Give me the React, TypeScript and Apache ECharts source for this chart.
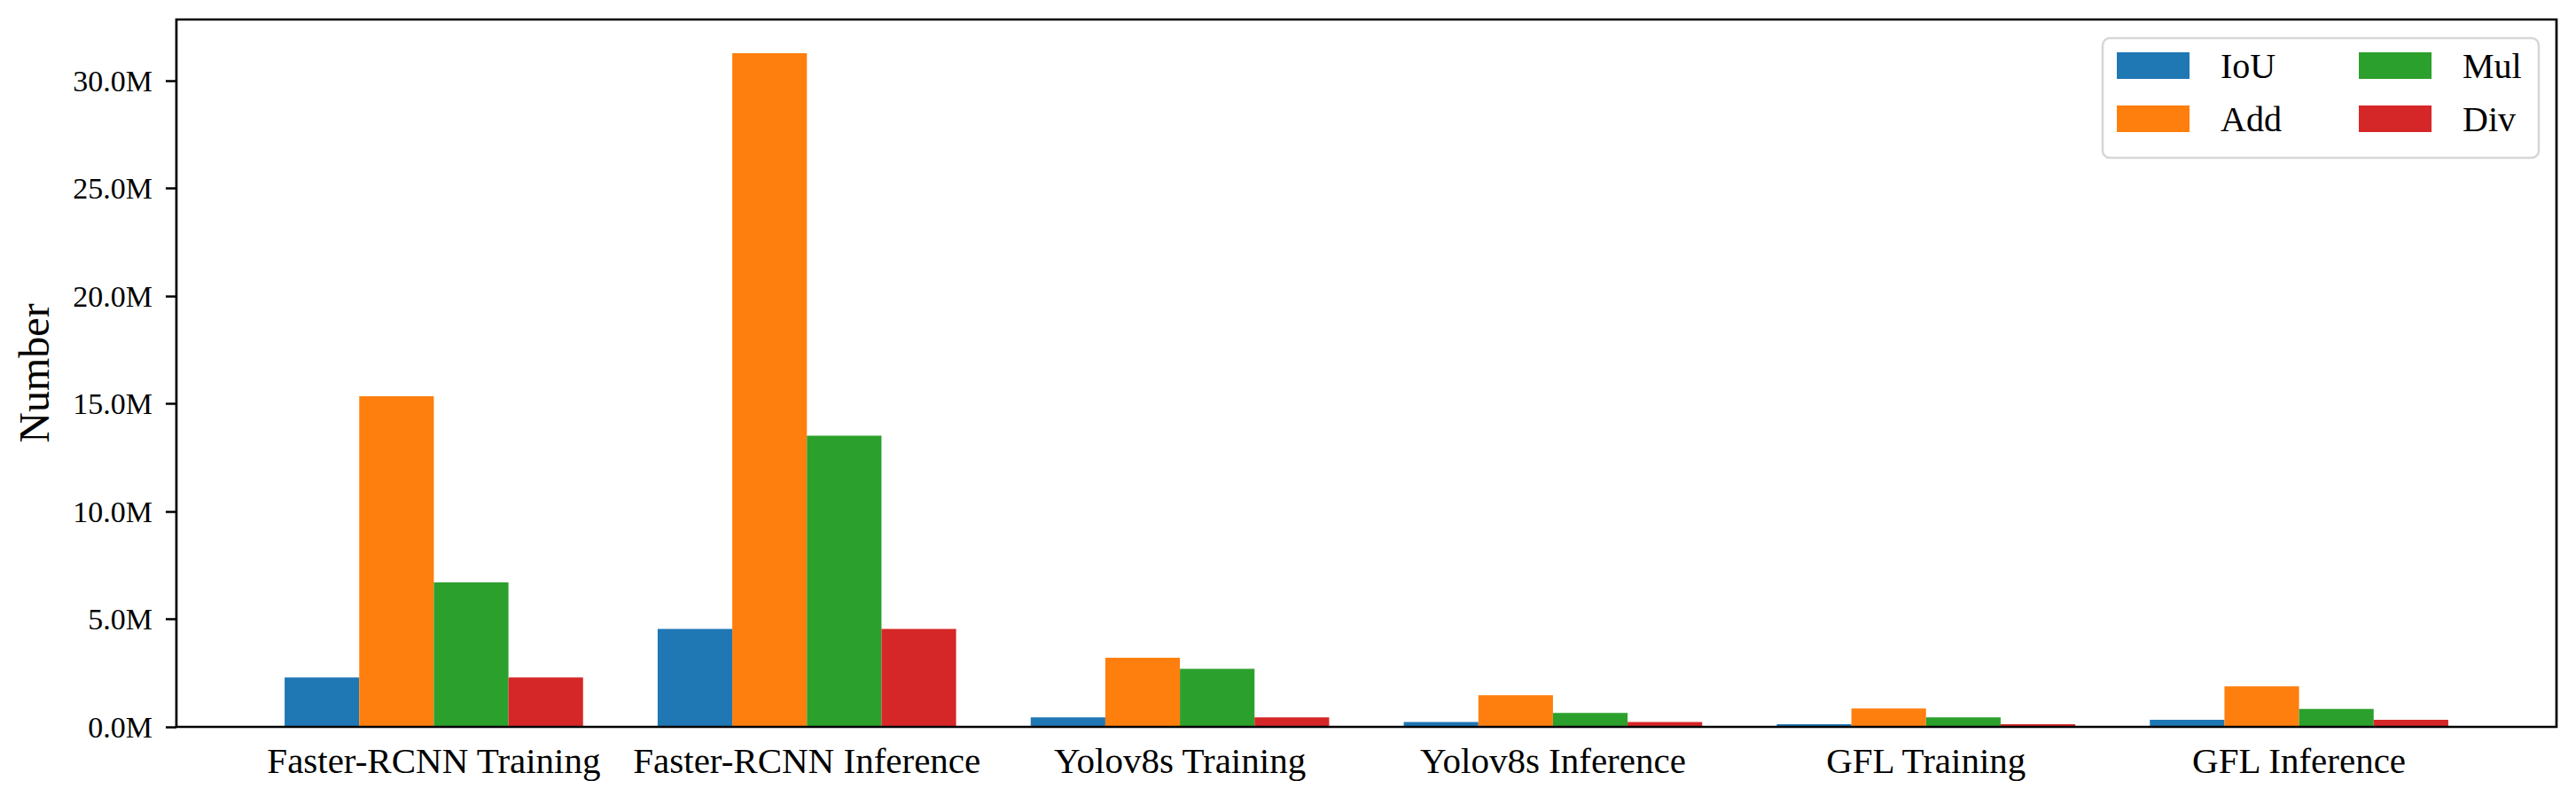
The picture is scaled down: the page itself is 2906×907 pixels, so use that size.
import React, { useEffect, useRef } from "react";
import * as echarts from "echarts";

const categories = [
  "Faster-RCNN Training",
  "Faster-RCNN Inference",
  "Yolov8s Training",
  "Yolov8s Inference",
  "GFL Training",
  "GFL Inference",
];
// values in millions
const iouValues = [2.29, 4.55, 0.44, 0.23, 0.12, 0.33];
const addValues = [15.35, 31.28, 3.21, 1.47, 0.85, 1.88];
const mulValues = [6.71, 13.52, 2.7, 0.65, 0.44, 0.83];
const divValues = [2.29, 4.55, 0.44, 0.23, 0.12, 0.33];
const yTickValues = [0, 5, 10, 15, 20, 25, 30];

const FONT = "Liberation Serif, Times New Roman, serif";

export default function App() {
  const ref = useRef<HTMLDivElement>(null);
  useEffect(() => {
    if (!ref.current) return;
    const chart = echarts.init(ref.current, undefined, { renderer: "svg" });
    const yMax = Math.max(...iouValues, ...addValues, ...mulValues, ...divValues) * 1.05;
    const legendCommon = {
      orient: "vertical",
      top: 54,
      padding: 0,
      itemWidth: 82,
      itemHeight: 30,
      itemGap: 20,
      itemTextGap: 5,
      icon: "rect",
      z: 10,
      textStyle: { fontFamily: FONT, fontSize: 40, lineHeight: 40, color: "#000", padding: [0, 0, 0, 30] },
    };
    chart.setOption({
      animation: false,
      backgroundColor: "#fff",
      grid: [
        { left: 199, right: 22, top: 22, bottom: 87, show: true, borderColor: "#000", borderWidth: 2.7, z: 10, backgroundColor: "transparent" },
        { left: 279, right: 102, top: 22, bottom: 87 },
      ],
      xAxis: [
        { type: "value", gridIndex: 0, show: false, min: 0, max: 1 },
        {
          type: "category",
          gridIndex: 1,
          data: categories,
          axisLine: { show: false },
          axisTick: { alignWithLabel: true, length: 12, lineStyle: { color: "#000", width: 2.5 } },
          axisLabel: { interval: 0, fontFamily: FONT, fontSize: 41, color: "#000", margin: 17 },
          splitLine: { show: false },
        },
      ],
      yAxis: [
        {
          type: "value",
          gridIndex: 0,
          min: 0,
          max: yMax,
          name: "Number",
          nameLocation: "middle",
          nameGap: 137,
          nameTextStyle: { fontFamily: FONT, fontSize: 48, color: "#000" },
          axisLine: { show: false },
          axisTick: { show: true, length: 12, customValues: yTickValues, lineStyle: { color: "#000", width: 2.5 } },
          axisLabel: {
            fontFamily: FONT,
            fontSize: 34,
            color: "#000",
            margin: 27,
            customValues: yTickValues,
            formatter: (v: number) => `${v.toFixed(1)}M`,
          },
          splitLine: { show: false },
        },
        { type: "value", gridIndex: 1, min: 0, max: yMax, show: false, splitLine: { show: false } },
      ],
      legend: [
        { ...legendCommon, left: 2388, data: ["IoU", "Add"] },
        { ...legendCommon, left: 2661, data: ["Mul", "Div"] },
      ],
      graphic: [
        {
          type: "rect",
          z: 5,
          shape: { x: 2372, y: 43, width: 492, height: 135, r: 8 },
          style: { fill: "rgba(255,255,255,0.8)", stroke: "#d6d6d6", lineWidth: 2.5 },
        },
      ],
      series: [
        { name: "IoU", type: "bar", xAxisIndex: 1, yAxisIndex: 1, data: iouValues, itemStyle: { color: "#1f77b4" }, barGap: "0%", barCategoryGap: "20%" },
        { name: "Add", type: "bar", xAxisIndex: 1, yAxisIndex: 1, data: addValues, itemStyle: { color: "#ff7f0e" }, barGap: "0%", barCategoryGap: "20%" },
        { name: "Mul", type: "bar", xAxisIndex: 1, yAxisIndex: 1, data: mulValues, itemStyle: { color: "#2ca02c" }, barGap: "0%", barCategoryGap: "20%" },
        { name: "Div", type: "bar", xAxisIndex: 1, yAxisIndex: 1, data: divValues, itemStyle: { color: "#d62728" }, barGap: "0%", barCategoryGap: "20%" },
      ],
    });
    return () => chart.dispose();
  }, []);
  return <div ref={ref} style={{ position: "absolute", left: 0, top: 0, width: 2906, height: 907 }} />;
}
